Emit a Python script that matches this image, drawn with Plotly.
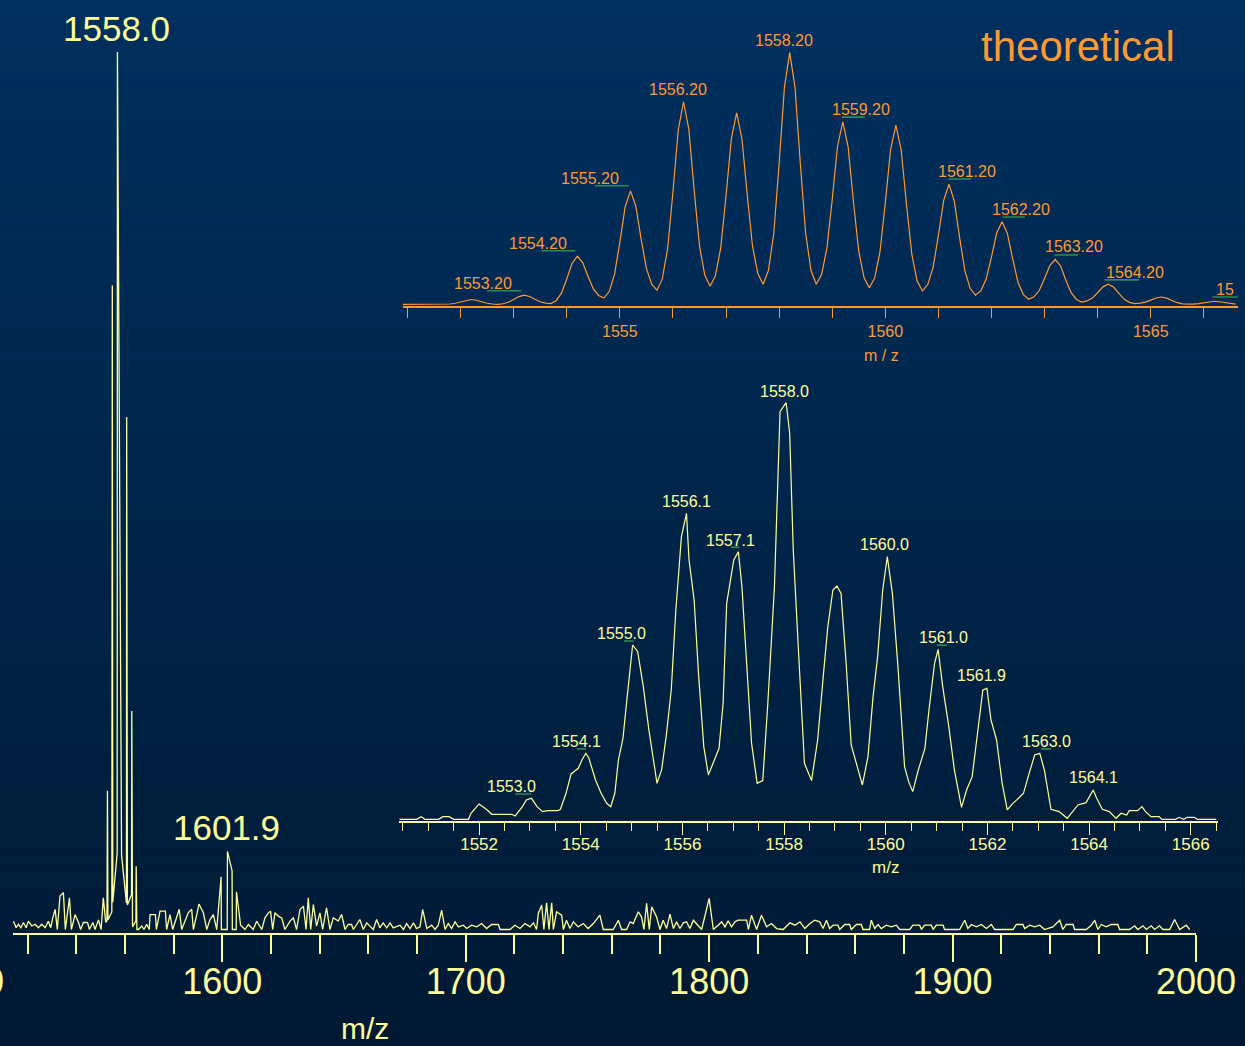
import plotly.graph_objects as go

W, H = 1245, 1046
YEL = "#ffff99"
ORA = "#ff9933"
GRN = "#2f8a55"
FONT = "Liberation Sans, Arial, DejaVu Sans, sans-serif"

# ---------------- main spectrum (m/z 1514-2000) ----------------
MAIN_MZ = [
    1514.2, 1515.3, 1516.2, 1517.2, 1518.3, 1519.4, 1520.3, 1521.7, 1523.1, 1524.4,
    1525.8, 1527.2, 1528.5, 1529.5, 1530.3, 1531.3, 1532.2, 1533.3, 1534.7, 1535.5,
    1537.2, 1538.0, 1539.5, 1540.9, 1541.8, 1542.9, 1544.6, 1545.4, 1546.8, 1547.7,
    1549.1, 1550.2, 1551.1, 1552.1,
    1552.6, 1552.8, 1553.0, 1554.6, 1554.8, 1555.0, 1556.8, 1556.9, 1558.6, 1560.6,
    1560.7, 1561.0, 1562.7, 1562.8, 1563.1, 1564.5, 1564.6, 1564.9,
    1565.5, 1566.9, 1567.8, 1568.9, 1570.0, 1570.3, 1572.5, 1572.9, 1574.4, 1576.6,
    1577.1, 1578.5, 1579.6, 1581.2, 1582.3, 1583.3, 1584.7, 1586.0, 1587.4, 1588.1,
    1589.5, 1590.4, 1592.2, 1593.6, 1594.9, 1596.3, 1597.7,
    1598.6, 1599.5, 1599.6, 1602.0, 1602.1, 1604.0, 1604.1, 1605.7, 1605.8, 1607.5, 1609.3,
    1610.7, 1612.7, 1614.1, 1616.2, 1617.5, 1618.9, 1619.8, 1620.7, 1621.6, 1623.0,
    1624.4, 1625.7, 1627.8, 1629.2, 1630.5, 1631.9, 1633.3, 1634.4, 1635.3, 1636.3,
    1637.4, 1638.7, 1640.1, 1641.2, 1642.8, 1644.2, 1645.6, 1647.6, 1649.0, 1650.4,
    1651.7, 1653.1, 1653.8, 1655.2, 1656.5, 1657.9, 1659.3, 1660.6, 1662.0, 1663.4,
    1664.7, 1666.1, 1667.5, 1668.9, 1670.2,
    1673.0, 1674.4, 1675.7, 1677.1, 1678.5, 1679.8, 1681.2, 1682.3, 1684.0, 1686.0,
    1687.4, 1688.7, 1690.1, 1691.5, 1692.8, 1694.2, 1695.6, 1697.0, 1699.0, 1700.4,
    1702.4, 1704.5, 1706.5, 1708.6, 1710.6, 1713.4, 1714.1, 1718.2, 1720.2, 1722.3,
    1724.3, 1726.4, 1727.8, 1729.1, 1729.8, 1731.2, 1732.1, 1733.2, 1734.2, 1735.3,
    1736.0, 1737.3, 1739.4, 1740.1, 1741.4, 1742.8, 1744.2, 1746.2, 1748.3, 1750.3,
    1752.4, 1755.1, 1756.5, 1760.6, 1762.7, 1764.0, 1766.1, 1767.5, 1768.8, 1770.9,
    1772.2, 1773.2, 1774.3, 1775.4, 1776.4, 1778.4, 1779.8, 1781.1, 1782.5, 1783.9,
    1785.3, 1786.6, 1788.0, 1789.4, 1790.7, 1792.1, 1793.5, 1795.5, 1796.9, 1800.0,
    1801.7, 1803.7, 1805.1, 1806.5, 1807.8, 1809.2, 1810.6, 1811.9, 1815.4, 1816.1,
    1817.4, 1819.5, 1821.5, 1823.6, 1825.6, 1827.7, 1830.4, 1833.2, 1835.2, 1837.3,
    1839.3, 1841.4, 1843.4,
    1845.4, 1846.8, 1848.2, 1849.5, 1850.9, 1852.9, 1853.6, 1855.7, 1857.7, 1858.4,
    1860.5, 1862.5, 1863.2, 1865.9, 1866.6, 1868.0, 1869.4, 1870.7, 1872.8, 1874.8,
    1876.9, 1878.3, 1882.4, 1883.7, 1886.5, 1887.2, 1888.5, 1891.3, 1892.0, 1893.3,
    1896.1, 1896.7, 1902.9, 1905.0, 1906.3, 1907.7, 1909.8, 1911.8, 1913.9, 1915.9,
    1917.3, 1924.8, 1926.2, 1928.9, 1929.6, 1931.7, 1933.7, 1935.8, 1937.8, 1941.2,
    1944.0, 1945.3, 1946.7, 1949.5, 1950.1, 1954.9, 1957.0, 1958.4, 1959.7, 1961.1,
    1963.1, 1965.2, 1967.9, 1968.6, 1972.7, 1974.8, 1976.1, 1978.2, 1979.6, 1981.6,
    1983.0, 1985.0, 1986.4, 1989.2, 1991.2, 1993.3, 1996.0, 1997.4,
]
MAIN_INT = [
    0.95, 0.2, 0.6, 0.2, 0.8, 0.2, 0.95, 0.4, 0.6, 0.2,
    0.6, 0.2, 0.95, 0.2, 1.3, 2.3, 0.0, 3.8, 4.2, 0.0,
    3.6, 0.0, 1.7, 0.8, 0.0, 0.8, 0.8, 0.0, 0.8, 0.0,
    1.1, 0.0, 3.6, 0.8,
    1.0, 15.8, 1.1, 2.0, 73.4, 3.1, 8.7, 100.0, 8.5, 3.0,
    58.4, 2.8, 4.0, 24.9, 0.3, 1.0, 7.2, 0.0,
    0.0, 0.4, 0.0, 0.6, 0.0, 1.7, 1.7, 0.0, 2.1, 2.1,
    0.0, 1.7, 0.0, 1.3, 2.3, 0.0, 0.95, 1.9, 2.3, 0.0,
    1.7, 2.9, 1.9, 0.0, 1.1, 1.7, 0.0,
    3.0, 6.0, 0.0, 0.0, 8.9, 6.7, 0.0, 0.0, 4.3, 0.5, 0.0,
    0.57, 0.0, 0.95, 0.0, 1.33, 1.9, 2.09, 0.0, 1.9, 1.52,
    1.33, 0.0, 0.95, 1.33, 0.0, 2.28, 2.66, 0.0, 3.61, 0.0,
    2.85, 0.38, 1.9, 0.0, 2.47, 0.0, 1.33, 0.95, 1.71, 0.0,
    0.57, 0.57, 0.0, 0.57, 1.14, 0.0, 0.76, 0.38, 0.0, 1.14,
    0.19, 0.76, 0.19, 0.76, 0.19,
    0.49, 0.0, 0.68, 0.11, 0.76, 0.11, 0.3, 2.28, 0.11, 0.49,
    0.0, 0.49, 2.2, 0.0, 0.68, 0.11, 0.87, 0.3, 0.49, 0.11,
    0.49, 0.3, 0.68, 0.11, 0.57, 0.57, 0.0, 0.0, 0.49, 0.11,
    0.68, 0.3, 0.76, 0.0, 1.83, 2.78, 0.0, 3.04, 0.0, 3.04,
    0.0, 2.02, 1.63, 0.0, 1.06, 0.11, 0.87, 0.3, 0.68, 0.11,
    0.68, 1.63, 0.0, 0.0, 1.06, 0.0, 0.0, 0.87, 0.68, 2.02,
    1.44, 0.0, 2.97, 0.0, 2.59, 1.44, 0.0, 1.06, 0.11, 1.75,
    0.11, 0.87, 0.11, 0.76, 0.87, 0.11, 1.06, 0.49, 0.0, 3.54,
    0.0, 0.49, 0.87, 0.3, 0.99, 0.3, 0.87, 1.06, 1.06, 0.0,
    1.63, 0.0, 1.63, 0.3, 0.68, 0.11, 0.0, 0.76, 0.49, 0.87,
    0.11, 0.68, 1.06,
    0.87, 0.11, 1.06, 0.11, 0.49, 0.49, 0.0, 0.57, 0.57, 0.0,
    0.57, 0.57, 0.0, 0.0, 1.06, 0.11, 0.57, 0.11, 0.49, 0.3,
    0.49, 0.0, 0.0, 0.49, 0.49, 0.0, 0.49, 0.49, 0.0, 0.49,
    0.49, 0.0, 0.0, 1.06, 0.11, 0.57, 0.3, 0.57, 0.11, 0.57,
    0.0, 0.0, 0.57, 0.57, 0.11, 0.49, 0.3, 0.49, 0.0, 0.3,
    1.06, 0.0, 0.57, 0.57, 0.0, 0.0, 0.49, 1.06, 0.0, 0.57,
    0.3, 0.57, 0.57, 0.0, 0.0, 0.42, 0.0, 0.42, 0.0, 0.42,
    0.0, 0.42, 0.0, 0.0, 1.14, 0.0, 0.49, 0.0,
]

MAIN_LABELS = ["1558.0", "1601.9"]
MAIN_LABEL_MZ = [1556.6, 1601.7]
MAIN_LABEL_INT = [102.7, 11.6]

# ---------------- theoretical isotope pattern ----------------
THEO_MZ = [
    1550.9, 1551.0, 1551.1, 1551.2, 1551.3, 1551.4, 1551.5, 1551.6, 1551.7,
    1551.8, 1551.9, 1552.0, 1552.1, 1552.2, 1552.3, 1552.4, 1552.5, 1552.6, 1552.7,
    1552.8, 1552.9, 1553.0, 1553.1, 1553.2, 1553.3, 1553.4, 1553.5, 1553.6, 1553.7,
    1553.8, 1553.9, 1554.0, 1554.1, 1554.2, 1554.3, 1554.4, 1554.5, 1554.6, 1554.7,
    1554.8, 1554.9, 1555.0, 1555.1, 1555.2, 1555.3, 1555.4, 1555.5, 1555.6, 1555.7,
    1555.8, 1555.9, 1556.0, 1556.1, 1556.2, 1556.3, 1556.4, 1556.5, 1556.6, 1556.7,
    1556.8, 1556.9, 1557.0, 1557.1, 1557.2, 1557.3, 1557.4, 1557.5, 1557.6, 1557.7,
    1557.8, 1557.9, 1558.0, 1558.1, 1558.2, 1558.3, 1558.4, 1558.5, 1558.6, 1558.7,
    1558.8, 1558.9, 1559.0, 1559.1, 1559.2, 1559.3, 1559.4, 1559.5, 1559.6, 1559.7,
    1559.8, 1559.9, 1560.0, 1560.1, 1560.2, 1560.3, 1560.4, 1560.5, 1560.6, 1560.7,
    1560.8, 1560.9, 1561.0, 1561.1, 1561.2, 1561.3, 1561.4, 1561.5, 1561.6, 1561.7,
    1561.8, 1561.9, 1562.0, 1562.1, 1562.2, 1562.3, 1562.4, 1562.5, 1562.6, 1562.7,
    1562.8, 1562.9, 1563.0, 1563.1, 1563.2, 1563.3, 1563.4, 1563.5, 1563.6, 1563.7,
    1563.8, 1563.9, 1564.0, 1564.1, 1564.2, 1564.3, 1564.4, 1564.5, 1564.6, 1564.7,
    1564.8, 1564.9, 1565.0, 1565.1, 1565.2, 1565.3, 1565.4, 1565.5, 1565.6, 1565.7,
    1565.8, 1565.9, 1566.0, 1566.1, 1566.2, 1566.3, 1566.4, 1566.5, 1566.6,
]
THEO_INT = [
    0, 0, 0, 0, 0, 0, 0, 0, 0,
    0.11, 0.42, 0.99, 1.62, 1.9, 1.62, 0.99, 0.42, 0.11, 0,
    0.22, 0.79, 1.87, 3.06, 3.6, 3.11, 2.02, 1.03, 0.5, 0.3,
    1.43, 4.44, 10.08, 16.28, 19.1, 16.61, 11.13, 6.15, 3.5, 2.5,
    5.06, 11.87, 24.65, 38.71, 45.1, 39.18, 26.14, 14.29, 7.97, 5.6,
    10.09, 22.08, 44.55, 69.27, 80.5, 69.51, 45.32, 23.33, 11.6, 7.2,
    11.33, 22.36, 43.03, 65.77, 76.1, 65.89, 43.41, 22.98, 12.09, 8.0,
    13.52, 28.24, 55.84, 86.2, 100.0, 86.2, 55.84, 28.24, 13.52, 8.0,
    11.87, 22.19, 41.54, 62.83, 72.5, 62.62, 40.87, 21.1, 10.55, 6.6,
    10.48, 20.81, 40.19, 61.51, 71.2, 61.32, 39.57, 19.8, 9.25, 5.3,
    7.84, 14.63, 27.35, 41.34, 47.7, 41.09, 26.53, 13.3, 6.25, 3.6,
    5.35, 10.02, 18.78, 28.42, 32.8, 28.18, 18.02, 8.78, 3.85, 2.0,
    2.95, 5.48, 10.22, 15.43, 17.8, 15.27, 9.69, 4.62, 1.91, 0.9,
    1.33, 2.46, 4.59, 6.94, 8.0, 6.85, 4.3, 1.99, 0.76, 0.3,
    0.46, 0.87, 1.65, 2.51, 2.9, 2.47, 1.51, 0.64, 0.17, 0,
    0.07, 0.26, 0.62, 1.02, 1.2, 1.02, 0.62, 0.26, 0.07,
]
THEO_LABELS = ["1553.20", "1554.20", "1555.20", "1556.20", "1558.20", "1559.20",
               "1561.20", "1562.20", "1563.20", "1564.20", "15"]
THEO_LABEL_MZ = [1552.43, 1553.45, 1554.43, 1556.09, 1558.10, 1559.54,
                 1561.53, 1562.55, 1563.55, 1564.71, 1566.39]
THEO_LABEL_INT = [8.35, 24.2, 50.1, 85.5, 105.0, 77.5, 52.7, 37.8, 22.9, 12.6, 5.7]
THEO_UL_START = [1552.50, 1553.52, 1554.53, 1559.18, 1561.19, 1562.21, 1563.19, 1564.13, 1566.16]
THEO_UL_END = [1553.14, 1554.16, 1555.17, 1559.61, 1561.62, 1562.63, 1563.63, 1564.78, 1566.64]
THEO_UL_INT = [5.4, 21.3, 47.1, 74.4, 49.8, 34.7, 19.6, 9.7, 2.9]

# ---------------- measured isotope cluster ----------------
EXP_MZ = [
    1550.43, 1550.77, 1550.86, 1550.93, 1551.20, 1551.29, 1551.41, 1551.50, 1551.79, 1551.84,
    1552.00, 1552.16, 1552.25, 1552.64, 1552.71, 1552.85, 1552.93, 1553.03, 1553.14, 1553.25,
    1553.35, 1553.55, 1553.60, 1553.71, 1553.81, 1553.95, 1554.03, 1554.10, 1554.16, 1554.29,
    1554.40, 1554.51, 1554.59, 1554.67, 1554.74, 1554.83, 1554.91, 1555.02, 1555.12, 1555.23,
    1555.34, 1555.44, 1555.50, 1555.59, 1555.68, 1555.78, 1555.87, 1555.98, 1556.08, 1556.13,
    1556.23, 1556.32, 1556.42, 1556.51, 1556.58, 1556.72, 1556.80, 1556.87, 1557.01, 1557.10,
    1557.17, 1557.28, 1557.36, 1557.47, 1557.58, 1557.68, 1557.81, 1557.92, 1558.04, 1558.11,
    1558.18, 1558.29, 1558.40, 1558.54, 1558.66, 1558.77, 1558.86, 1558.96, 1559.04, 1559.12,
    1559.22, 1559.32, 1559.43, 1559.54, 1559.65, 1559.75, 1559.84, 1559.94, 1560.03, 1560.13,
    1560.24, 1560.37, 1560.45, 1560.53, 1560.64, 1560.77, 1560.85, 1560.96, 1561.03, 1561.12,
    1561.24, 1561.35, 1561.49, 1561.59, 1561.70, 1561.81, 1561.91, 1561.99, 1562.07, 1562.18,
    1562.29, 1562.39, 1562.50, 1562.61, 1562.71, 1562.82, 1562.93, 1563.03, 1563.12, 1563.25,
    1563.41, 1563.57, 1563.67, 1563.78, 1563.94, 1564.08, 1564.15, 1564.26, 1564.40, 1564.53,
    1564.63, 1564.74, 1564.79, 1564.95, 1565.04, 1565.11, 1565.22, 1565.38, 1565.43, 1565.70,
    1565.77, 1565.86, 1565.93, 1566.07, 1566.13, 1566.50,
]
EXP_INT = [
    0, 0, 0.64, 0, 0, 0.64, 0.64, 0, 0, 1.44,
    3.68, 2.24, 1.2, 1.2, 0.8, 3.04, 4.64, 5.04, 3.04, 1.84,
    2.08, 2.08, 2.4, 6.24, 10.88, 12.24, 14.4, 15.84, 14.64, 9.44,
    6.24, 3.84, 3.04, 6.24, 14.24, 19.44, 29.04, 41.84, 40.24, 31.84,
    21.44, 12.64, 8.64, 11.84, 19.84, 31.04, 50.24, 67.84, 73.44, 62.24,
    52.64, 34.24, 17.44, 10.64, 12.64, 17.04, 27.84, 51.84, 62.24, 64.24,
    55.84, 34.24, 18.24, 8.64, 9.28, 27.84, 55.84, 97.84, 100.0, 92.64,
    64.64, 38.84, 13.44, 9.28, 19.04, 34.24, 46.24, 55.04, 56.0, 54.24,
    37.44, 17.84, 13.04, 8.24, 15.04, 29.44, 39.04, 55.04, 63.04, 54.24,
    36.64, 12.64, 9.04, 6.64, 11.84, 17.04, 26.24, 37.44, 40.8, 31.84,
    22.24, 11.84, 2.88, 7.04, 10.24, 20.64, 31.04, 31.44, 23.84, 19.04,
    8.64, 2.24, 3.84, 5.04, 6.24, 11.04, 15.44, 15.84, 11.84, 2.4,
    1.84, 0.24, 1.84, 3.44, 4.0, 7.04, 5.04, 2.4, 1.84, 0.24,
    1.44, 1.04, 2.08, 2.08, 3.04, 1.84, 0.64, 0.64, 0, 0,
    0.48, 0, 0.48, 0.48, 0, 0,
]
EXP_LABELS = ["1553.0", "1554.1", "1555.0", "1556.1", "1557.1", "1558.0",
              "1560.0", "1561.0", "1561.9", "1563.0", "1564.1"]
EXP_LABEL_MZ = [1552.64, 1553.92, 1554.80, 1556.08, 1556.94, 1558.00,
                1559.97, 1561.14, 1561.89, 1563.17, 1564.08]
EXP_LABEL_INT = [7.84, 18.64, 44.5, 76.2, 67.0, 102.6, 66.0, 43.6, 34.5, 18.6, 10.1]
EXP_UL_START = [1552.71, 1553.92, 1554.85, 1556.96, 1561.01, 1563.06]
EXP_UL_END = [1553.03, 1554.10, 1555.04, 1557.12, 1561.20, 1563.25]
EXP_UL_INT = [6.08, 16.9, 42.8, 65.3, 41.8, 16.9]


def px_x(p):
    return p / W


def px_y(p):
    return 1 - p / H


fig = go.Figure()

fig.add_trace(go.Scatter(x=MAIN_MZ, y=MAIN_INT, mode="lines", xaxis="x", yaxis="y",
                         line=dict(color=YEL, width=1.3), hoverinfo="skip"))
fig.add_trace(go.Scatter(x=THEO_MZ, y=THEO_INT, mode="lines", xaxis="x2", yaxis="y2",
                         line=dict(color=ORA, width=1.2), hoverinfo="skip"))
fig.add_trace(go.Scatter(x=EXP_MZ, y=EXP_INT, mode="lines", xaxis="x3", yaxis="y3",
                         line=dict(color=YEL, width=1.2), hoverinfo="skip"))

# background gradient
shapes = []
N = 60
top = (0, 48, 95)
bot = (0, 25, 50)
for i in range(N):
    f = (i + 0.5) / N
    c = tuple(round(bot[k] + (top[k] - bot[k]) * f) for k in range(3))
    shapes.append(dict(type="rect", xref="paper", yref="paper", x0=0, x1=1,
                       y0=i / N, y1=(i + 1) / N + 0.002, layer="below",
                       fillcolor="rgb(%d,%d,%d)" % c, line=dict(width=0)))

for s, e, v in zip(THEO_UL_START, THEO_UL_END, THEO_UL_INT):
    shapes.append(dict(type="line", xref="x2", yref="y2", x0=s, x1=e, y0=v, y1=v,
                       line=dict(color=GRN, width=1.6)))
for s, e, v in zip(EXP_UL_START, EXP_UL_END, EXP_UL_INT):
    shapes.append(dict(type="line", xref="x3", yref="y3", x0=s, x1=e, y0=v, y1=v,
                       line=dict(color=GRN, width=1.6)))

ann = []
for t, x, y in zip(MAIN_LABELS, MAIN_LABEL_MZ, MAIN_LABEL_INT):
    ann.append(dict(text=t, x=x, y=y, xref="x", yref="y", showarrow=False,
                    xanchor="center", yanchor="middle",
                    font=dict(family=FONT, size=35, color=YEL)))
for t, x, y in zip(THEO_LABELS, THEO_LABEL_MZ, THEO_LABEL_INT):
    ann.append(dict(text=t, x=x, y=y, xref="x2", yref="y2", showarrow=False,
                    xanchor="center", yanchor="middle",
                    font=dict(family=FONT, size=16, color=ORA)))
for t, x, y in zip(EXP_LABELS, EXP_LABEL_MZ, EXP_LABEL_INT):
    ann.append(dict(text=t, x=x, y=y, xref="x3", yref="y3", showarrow=False,
                    xanchor="center", yanchor="middle",
                    font=dict(family=FONT, size=16, color=YEL)))


def paper_text(t, x, y, size, color, xanchor="center"):
    return dict(text=t, x=px_x(x), y=px_y(y), xref="paper", yref="paper",
                xanchor=xanchor, yanchor="middle", showarrow=False,
                font=dict(family=FONT, size=size, color=color))


ann += [
    paper_text("theoretical", 1078, 46, 42, ORA),
    paper_text("m/z", 365, 1028, 30, YEL),
    paper_text("m / z", 881, 355, 16, ORA),
    paper_text("m/z", 885, 867, 17, YEL),
    # tick label of 1500, mostly beyond the left edge of the picture as in the reference
    paper_text("1500", 6, 981, 36, YEL, xanchor="right"),
]

hidden_y = dict(visible=False, showgrid=False, zeroline=False, fixedrange=True,
                automargin=False)

fig.update_layout(
    width=W, height=H, autosize=False,
    margin=dict(l=0, r=0, t=0, b=0, pad=0, autoexpand=False),
    paper_bgcolor="rgb(0,36,72)", plot_bgcolor="rgba(0,0,0,0)",
    showlegend=False, hovermode=False,
    shapes=shapes, annotations=ann,
    xaxis=dict(domain=[px_x(13), px_x(1196)], range=[1514, 2000], anchor="y",
               automargin=False,
               showline=True, linecolor=YEL, linewidth=1.5, showgrid=False, zeroline=False,
               ticks="outside", ticklen=27, tickwidth=1.5, tickcolor=YEL,
               tick0=1500, dtick=100, ticklabelstandoff=-11,
               tickfont=dict(family=FONT, size=36, color=YEL),
               minor=dict(dtick=20, tick0=1500, ticks="outside", ticklen=19, tickwidth=1.5,
                          tickcolor=YEL, showgrid=False)),
    yaxis=dict(domain=[px_y(933), 1], range=[-0.399, 105.93], anchor="x", **hidden_y),
    xaxis2=dict(domain=[px_x(402.7), px_x(1237.8)], range=[1550.91, 1566.64], anchor="y2",
                automargin=False,
                showline=True, linecolor=ORA, linewidth=2, showgrid=False, zeroline=False,
                ticks="outside", ticklen=10, tickwidth=1, tickcolor=ORA,
                tick0=1555, dtick=5,
                tickfont=dict(family=FONT, size=16, color=ORA),
                minor=dict(dtick=1, tick0=1555, ticks="outside", ticklen=10, tickwidth=1,
                           tickcolor=ORA, showgrid=False)),
    yaxis2=dict(domain=[px_y(305.5), px_y(10)], range=[-0.477, 116.97], anchor="x2", **hidden_y),
    xaxis3=dict(domain=[px_x(399.3), px_x(1217.7)], range=[1550.43, 1566.53], anchor="y3",
                automargin=False,
                showline=True, linecolor=YEL, linewidth=1.5, showgrid=False, zeroline=False,
                ticks="outside", ticklen=13, tickwidth=1, tickcolor=YEL,
                tick0=1550, dtick=2, ticklabelstandoff=-6,
                tickfont=dict(family=FONT, size=17, color=YEL),
                minor=dict(dtick=0.5, tick0=1550, ticks="outside", ticklen=9, tickwidth=1,
                           tickcolor=YEL, showgrid=False)),
    yaxis3=dict(domain=[px_y(820.7), px_y(370)], range=[-0.336, 107.85], anchor="x3", **hidden_y),
)

fig.write_html("out.html")
